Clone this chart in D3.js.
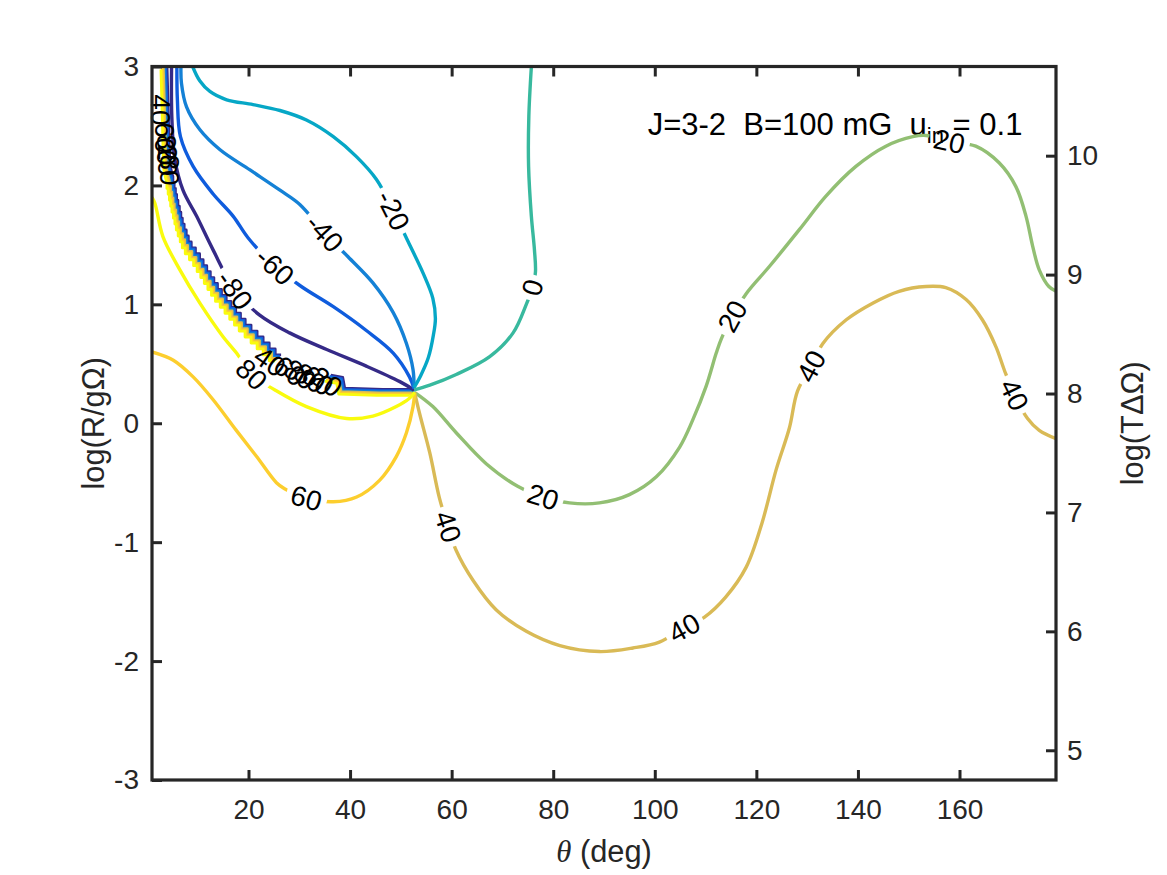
<!DOCTYPE html>
<html>
<head>
<meta charset="utf-8">
<script src="https://cdn.jsdelivr.net/npm/d3@7"></script>
<style>
  body { margin: 0; background: #fff; }
  text { font-family: "Liberation Sans", Arial, Helvetica, sans-serif; }
</style>
</head>
<body>
<svg id="chart"></svg>
<script>
// ---- data ----------------------------------------------------------------
const levels = [-80, -60, -40, -20, 0, 20, 40, 60, 80];
const parula = ["#352A87", "#0F5CDD", "#1481D6", "#06A7C6", "#38B99E",
                "#92BF73", "#D9BA56", "#FCCE2E", "#F9FB0E"];

const xTicks = [20, 40, 60, 80, 100, 120, 140, 160];
const yLeftTicks = [-3, -2, -1, 0, 1, 2, 3];
const yRightTicks = [5, 6, 7, 8, 9, 10];

// contour lines, [theta (deg), log(R/gΩ)]
const lineM80 = [[4.85,3.0],[4.9,2.58],[5.5,2.22],[7.1,1.96],[9.8,1.74],[13.0,1.46],[17.3,1.12],
  [22.2,0.91],[28.1,0.76],[35.4,0.62],[43.2,0.48],[49.8,0.35],[52.6,0.28]];
const lineM60 = [[5.9,3.0],[6.0,2.72],[6.6,2.41],[9.1,2.16],[13.0,1.93],[17.0,1.74],[19.9,1.56],
  [25.2,1.32],[30.4,1.15],[36.7,0.98],[43.2,0.78],[48.5,0.59],[51.7,0.39],[52.6,0.29]];
const lineM40 = [[6.7,3.0],[6.8,2.86],[7.8,2.66],[10.4,2.47],[14.4,2.30],[20.3,2.13],[26.2,1.96],
  [30.1,1.84],[35.0,1.60],[39.6,1.40],[44.5,1.18],[48.5,0.93],[51.1,0.67],[52.4,0.45],[52.6,0.30]];
const lineM20 = [[9.0,3.0],[10.4,2.88],[12.4,2.79],[15.7,2.72],[20.9,2.68],[26.2,2.63],[31.4,2.55],
  [36.7,2.41],[41.3,2.24],[45.2,2.05],[48.5,1.79],[51.4,1.53],[54.4,1.26],[56.3,1.05],[56.8,0.88],
  [56.4,0.74],[55.4,0.55],[53.9,0.40],[52.6,0.30]];
const line0 = [[75.7,3.0],[75.2,2.58],[75.15,2.16],[75.7,1.74],[76.3,1.46],[76.5,1.27],[75.9,1.14],
  [74.7,1.0],[72.1,0.76],[67.5,0.56],[60.9,0.41],[55.7,0.32],[52.6,0.28]];
const line20 = [[52.7,0.26],[56.3,0.14],[60.9,-0.08],[66.8,-0.34],[73.0,-0.53],[78.0,-0.62],
  [83.2,-0.67],[89.1,-0.67],[95.0,-0.60],[100.3,-0.45],[104.9,-0.20],[107.5,0.03],[110.1,0.31],
  [112.1,0.59],[113.1,0.71],[115.3,0.90],[118.0,1.09],[122.6,1.32],[128.5,1.63],[133.7,1.91],
  [139.6,2.16],[145.5,2.33],[150.8,2.41],[153.4,2.42],[158.0,2.37],[163.2,2.33],[167.8,2.19],
  [171.1,1.99],[173.1,1.74],[174.4,1.49],[175.7,1.29],[177.6,1.15],[179,1.11]];
const line40 = [[52.7,0.26],[53.7,0.08],[55.7,-0.25],[57.6,-0.63],[59.3,-0.87],[60.9,-1.07],
  [64.2,-1.32],[68.8,-1.57],[74.7,-1.75],[81.3,-1.87],[89.1,-1.92],[95.7,-1.89],[100.9,-1.84],
  [105.8,-1.72],[109.8,-1.63],[114.0,-1.46],[118.0,-1.21],[121.1,-0.84],[123.9,-0.39],[126.5,-0.04],
  [128.1,0.27],[130.8,0.48],[133.1,0.67],[137.7,0.87],[142.9,1.01],[148.1,1.11],[153.4,1.15],
  [157.3,1.14],[161.3,1.04],[164.5,0.87],[167.2,0.64],[168.8,0.45],[170.8,0.24],[173.4,0.04],
  [175.7,-0.06],[179,-0.13]];
const line60 = [[1.0,0.60],[5.2,0.53],[9.1,0.39],[13.0,0.20],[17.6,-0.06],[21.6,-0.28],[25.5,-0.50],
  [27.1,-0.55],[31.4,-0.63],[36.7,-0.66],[41.3,-0.62],[45.8,-0.48],[49.1,-0.28],[51.1,-0.08],
  [52.4,0.14],[52.7,0.25]];
const line80 = [[1.0,1.90],[1.57,1.85],[3.15,1.57],[6.49,1.29],[10.43,1.01],[14.95,0.73],[17.65,0.59],
  [20.6,0.41],[25.2,0.28],[31.4,0.14],[39.3,0.04],[44.5,0.06],[49.1,0.14],[51.7,0.21],[52.7,0.26]];

// label spots on each contour
const labM80 = [[17.3,1.12]];
const labM60 = [[25.2,1.32]];
const labM40 = [[35.0,1.60]];
const labM20 = [[48.5,1.79]];
const lab0 = [[75.9,1.14]];
const lab20 = [[78.0,-0.62],[115.3,0.90],[158.0,2.37]];
const lab40 = [[59.3,-0.87],[105.8,-1.72],[130.8,0.48],[170.8,0.24]];
const lab60 = [[31.4,-0.63]];
const lab80 = [[20.6,0.41]];

// the jagged pile-up of many levels along the left ridge
const bandLevels = [-80, -60, -40, 40, 60, 80];
const bandUpper = [[3.35,3.0],[3.55,2.70],[3.75,2.35],[3.95,2.15],[4.3,2.08],
  [4.52,2.05],[4.52,2.00],[4.77,2.00],[4.77,1.95],[5.02,1.95],[5.02,1.90],[5.26,1.90],[5.26,1.85],
  [5.51,1.85],[5.51,1.80],[5.80,1.80],[5.80,1.75],[6.09,1.75],[6.09,1.70],[6.38,1.70],[6.38,1.65],
  [6.74,1.65],[6.74,1.60],[7.15,1.60],[7.15,1.55],[7.56,1.55],[7.56,1.50],[8.14,1.50],[8.14,1.45],
  [8.96,1.45],[8.96,1.40],[9.78,1.40],[9.78,1.35],[10.48,1.35],[10.48,1.30],[11.19,1.30],[11.19,1.25],
  [11.89,1.25],[11.89,1.20],[12.59,1.20],[12.59,1.15],[13.30,1.15],[13.30,1.10],[14.09,1.10],
  [14.09,1.05],[15.02,1.05],[15.02,1.00],[15.96,1.00],[15.96,0.95],[16.89,0.95],[16.89,0.90],
  [17.83,0.90],[17.83,0.85],[18.76,0.85],[18.76,0.80],[19.91,0.80],[19.91,0.75],[21.10,0.75],
  [21.10,0.70],[22.29,0.70],[22.29,0.65],[23.49,0.65],[23.49,0.60],[24.67,0.60],[24.67,0.55],
  [25.83,0.55]];
const bandLower = [[35.6,0.38],[37.97,0.36],[38.36,0.27],[45.84,0.26],[52.33,0.26]];

// piled-up labels on the ridge
const pileTopText = ["40", "60", "80", "20", "80"];
const pileTopPos = [[2.75,2.635],[3.54,2.40],[3.93,2.30],[4.13,2.21],[4.52,2.13]];
const pileLowText = ["40", "60", "80", "80", "60", "20"];
const pileLowPos = [[24.2,0.52],[28.1,0.44],[30.1,0.41],[32.1,0.38],[33.6,0.36],[35.4,0.35]];

// ---- chart ---------------------------------------------------------------
const W = 1167, H = 875;
const ink = "#262626";

const x = d3.scaleLinear().domain([1, 179]).range([152, 1056]);
const y = d3.scaleLinear().domain([-3, 3]).range([780, 66.5]);
const yR = d3.scaleLinear().domain([4.75, 10.75]).range([780, 66.5]);
const color = d3.scaleOrdinal().domain(levels).range(parula);

const svg = d3.select("#chart").attr("width", W).attr("height", H);
const defs = svg.append("defs");

defs.append("clipPath").attr("id", "plotClip")
  .append("rect")
    .attr("x", x.range()[0]).attr("y", y.range()[1])
    .attr("width", x.range()[1] - x.range()[0])
    .attr("height", y.range()[0] - y.range()[1]);

const smooth = d3.line().x(d => x(d[0])).y(d => y(d[1])).curve(d3.curveCatmullRom.alpha(0.5));
const straight = d3.line().x(d => x(d[0])).y(d => y(d[1]));

const contours = [
  { level: -80, pts: lineM80, labels: labM80 },
  { level: -60, pts: lineM60, labels: labM60 },
  { level: -40, pts: lineM40, labels: labM40 },
  { level: -20, pts: lineM20, labels: labM20 },
  { level: 0,   pts: line0,   labels: lab0 },
  { level: 20,  pts: line20,  labels: lab20 },
  { level: 40,  pts: line40,  labels: lab40 },
  { level: 60,  pts: line60,  labels: lab60 },
  { level: 80,  pts: line80,  labels: lab80 }
];

// angle of the contour at a label, kept upright like MATLAB's clabel
function labelAngle(pts, p) {
  let i = d3.minIndex(pts, d => Math.hypot(x(d[0]) - x(p[0]), y(d[1]) - y(p[1])));
  const a = pts[Math.max(0, i - 1)], b = pts[Math.min(pts.length - 1, i + 1)];
  let ang = Math.atan2(y(b[1]) - y(a[1]), x(b[0]) - x(a[0])) * 180 / Math.PI;
  if (ang > 90) ang -= 180;
  if (ang < -90) ang += 180;
  return ang;
}

const plot = svg.append("g").attr("clip-path", "url(#plotClip)");
const labelG = svg.append("g");

// band of stacked levels (drawn first, under the proper contours)
bandLevels.forEach((lv, i) => {
  const k = 3 - i * 1.2;        // spread the stacked lines across the ridge
  [bandUpper, bandLower].forEach(seg => {
    plot.append("path")
      .attr("d", straight(seg))
      .attr("transform", `translate(${k},${-k})`)
      .attr("fill", "none")
      .attr("stroke", color(lv))
      .attr("stroke-width", 2.8)
      .attr("stroke-linejoin", "round");
  });
});

// contour lines with a gap under every label
contours.forEach((c, ci) => {
  const mask = defs.append("mask").attr("id", "gap" + ci)
    .attr("maskUnits", "userSpaceOnUse")
    .attr("x", 0).attr("y", 0).attr("width", W).attr("height", H);
  mask.append("rect").attr("width", W).attr("height", H).attr("fill", "#fff");

  c.labels.forEach(p => {
    const tr = `translate(${x(p[0])},${y(p[1])}) rotate(${labelAngle(c.pts, p)})`;
    const t = labelG.append("text")
      .attr("transform", tr)
      .attr("text-anchor", "middle")
      .attr("dy", "0.35em")
      .attr("font-size", 28)
      .attr("fill", "#000")
      .text(c.level);
    const bb = t.node().getBBox();
    mask.append("rect")
      .attr("transform", tr)
      .attr("x", bb.x - 5).attr("y", bb.y)
      .attr("width", bb.width + 10).attr("height", bb.height)
      .attr("fill", "#000");
  });

  plot.append("path")
    .attr("d", smooth(c.pts))
    .attr("mask", `url(#gap${ci})`)
    .attr("fill", "none")
    .attr("stroke", color(c.level))
    .attr("stroke-width", 3.4)
    .attr("stroke-linejoin", "round");
});

// piled labels on the ridge
pileTopText.forEach((s, i) => {
  labelG.append("text")
    .attr("transform", `translate(${x(pileTopPos[i][0])},${y(pileTopPos[i][1])}) rotate(90)`)
    .attr("text-anchor", "middle").attr("dy", "0.35em")
    .attr("font-size", 28).attr("fill", "#000")
    .text(s);
});
pileLowText.forEach((s, i) => {
  labelG.append("text")
    .attr("transform", `translate(${x(pileLowPos[i][0])},${y(pileLowPos[i][1])}) rotate(35)`)
    .attr("text-anchor", "middle").attr("dy", "0.35em")
    .attr("font-size", 28).attr("fill", "#000")
    .text(s);
});

// annotation
const note = svg.insert("text", "g")
  .attr("x", x(98.6)).attr("y", y(2.42))
  .attr("font-size", 31).attr("fill", "#000")
  .style("white-space", "pre");
note.append("tspan").text("J=3-2  B=100 mG  u");
note.append("tspan").attr("font-size", 22).attr("dy", 8).text("in");
note.append("tspan").attr("dy", -8).text(" = 0.1");

// ---- axes ----------------------------------------------------------------
function styleAxis(g) {
  g.select(".domain").remove();
  g.selectAll(".tick line").attr("stroke", ink).attr("stroke-width", 3);
  g.selectAll(".tick text").attr("fill", ink)
    .attr("font-family", '"Liberation Sans", Arial, Helvetica, sans-serif')
    .attr("font-size", 28);
  g.attr("font-size", 28);
}

svg.append("g")
  .attr("transform", `translate(0,${y.range()[0]})`)
  .call(d3.axisBottom(x).tickValues(xTicks).tickSizeInner(-10).tickSizeOuter(0)
    .tickPadding(19).tickFormat(d => String(d)))
  .call(styleAxis);

svg.append("g")
  .attr("transform", `translate(0,${y.range()[1]})`)
  .call(d3.axisTop(x).tickValues(xTicks).tickSizeInner(-10).tickSizeOuter(0).tickFormat(""))
  .call(styleAxis);

svg.append("g")
  .attr("transform", `translate(${x.range()[0]},0)`)
  .call(d3.axisLeft(y).tickValues(yLeftTicks).tickSizeInner(-10).tickSizeOuter(0)
    .tickPadding(13).tickFormat(d => String(d)))
  .call(styleAxis);

svg.append("g")
  .attr("transform", `translate(${x.range()[1]},0)`)
  .call(d3.axisRight(yR).tickValues(yRightTicks).tickSizeInner(-10).tickSizeOuter(0)
    .tickPadding(11).tickFormat(d => String(d)))
  .call(styleAxis);

// frame
svg.append("rect")
  .attr("x", x.range()[0]).attr("y", y.range()[1])
  .attr("width", x.range()[1] - x.range()[0])
  .attr("height", y.range()[0] - y.range()[1])
  .attr("fill", "none").attr("stroke", ink).attr("stroke-width", 3.2);

// axis titles
const xTitle = svg.append("text")
  .attr("x", (x.range()[0] + x.range()[1]) / 2).attr("y", 862)
  .attr("text-anchor", "middle").attr("font-size", 30.8).attr("fill", ink)
  .style("white-space", "pre");
xTitle.append("tspan").attr("font-family", '"Liberation Serif", "DejaVu Serif", serif')
  .attr("font-style", "italic").text("θ");
xTitle.append("tspan").text(" (deg)");

svg.append("text")
  .attr("transform", `translate(104,${(y.range()[0] + y.range()[1]) / 2}) rotate(-90)`)
  .attr("text-anchor", "middle").attr("font-size", 30.8).attr("fill", ink)
  .text("log(R/gΩ)");

svg.append("text")
  .attr("transform", `translate(1143,${(y.range()[0] + y.range()[1]) / 2}) rotate(-90)`)
  .attr("text-anchor", "middle").attr("font-size", 30.8).attr("fill", ink)
  .text("log(TΔΩ)");
</script>
</body>
</html>
